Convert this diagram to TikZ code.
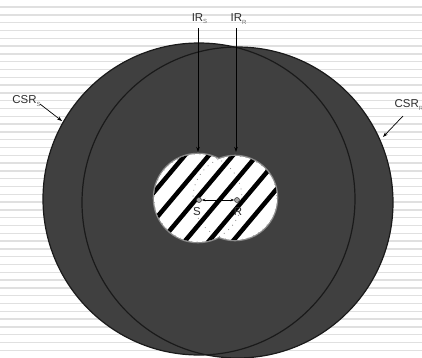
\documentclass[tikz,border=0pt]{standalone}
\usepackage{fontspec}
\setmainfont{Liberation Sans}
\usetikzlibrary{arrows.meta}
\definecolor{bgline}{HTML}{E0E0E0}
\definecolor{disk}{HTML}{404040}
\definecolor{rim}{HTML}{1A1A1A}
\definecolor{txt}{HTML}{2E2E2E}
\definecolor{subtxt}{HTML}{707070}
\definecolor{irim}{HTML}{8A8A8A}
\newcommand\lsub[1]{\raisebox{-0.35ex}{\fontsize{6}{6}\selectfont\color{subtxt}#1}}
\begin{document}
\begin{tikzpicture}[x=1bp,y=-1bp,
  lbl/.style={text=txt,inner sep=0pt,font=\fontsize{11.5}{12}\selectfont},
  pointer/.style={draw=black,line width=0.7bp,-{Stealth[length=5bp,width=3.5bp]}},
  dotnode/.style={circle,draw=txt,fill=gray!70,inner sep=0pt,minimum size=5bp,line width=0.5bp},
  hatch/.style={black,line width=4.5bp},
  bigdisk/.style={draw=rim,line width=1.2bp}]
\useasboundingbox (0,0) rectangle (422,358);
\fill[white] (0,0) rectangle (422,358);
\foreach \i in {0,...,44}
  \draw[bgline,line width=1.4bp] (0,{7+7.8*\i}) -- (422,{7+7.8*\i});
% big circles
\coordinate (cS) at (199,199);
\coordinate (cR) at (237.5,202.5);
\fill[disk] (cS) circle[radius=156];
\fill[disk] (cR) circle[radius=155.5];
\draw[bigdisk] (cS) circle[radius=156];
\draw[bigdisk] (cR) circle[radius=155.5];
% inner region
\coordinate (iS) at (198,198);
\coordinate (iR) at (235,198);
\draw[irim,line width=2.6bp] (iS) circle[radius=44];
\draw[irim,line width=2.6bp] (iR) circle[radius=42];
\begin{scope}
  \clip (iS) circle[radius=44] (iR) circle[radius=42];
  \fill[white] (140,140) rectangle (300,260);
  \draw[irim,line width=0.8bp,dash pattern=on 0.8bp off 5bp] (iS) circle[radius=44];
  \draw[irim,line width=0.8bp,dash pattern=on 0.8bp off 5bp] (iR) circle[radius=42];
  \foreach \k in {-5,...,8}
    \draw[hatch] ({160+24*\k-85.7},287.1) -- ({160+24*\k+85.7},82.9);
\end{scope}
% S and R
\node[dotnode] (S) at (199,200) {};
\node[dotnode] (R) at (237,200) {};
\draw[black,line width=0.6bp,{Stealth[length=3.5bp,width=2.5bp]}-{Stealth[length=3.5bp,width=2.5bp]}] (S) -- (R);
\node[lbl] (Slab) at (197,212) {S};
\node[lbl] (Rlab) at (238,212) {R};
% IR labels
\node[lbl] (irS) at (199.5,19) {IR\lsub{S}};
\node[lbl] (irR) at (238.5,19) {IR\lsub{R}};
\coordinate (irSa) at (198,28);
\coordinate (irSb) at (198,152);
\coordinate (irRa) at (236,28);
\coordinate (irRb) at (236,152);
\draw[pointer] (irSa) -- (irSb);
\draw[pointer] (irRa) -- (irRb);
% CSR labels
\node[lbl] (csrS) at (26.5,101) {CSR\lsub{S}};
\node[lbl,anchor=west] (csrR) at (394.5,105) {CSR\lsub{R}};
\coordinate (csrSa) at (40,104);
\coordinate (csrSb) at (62,121);
\coordinate (csrRa) at (403,116);
\coordinate (csrRb) at (383,137);
\draw[pointer] (csrSa) -- (csrSb);
\draw[pointer] (csrRa) -- (csrRb);
\end{tikzpicture}
\end{document}
